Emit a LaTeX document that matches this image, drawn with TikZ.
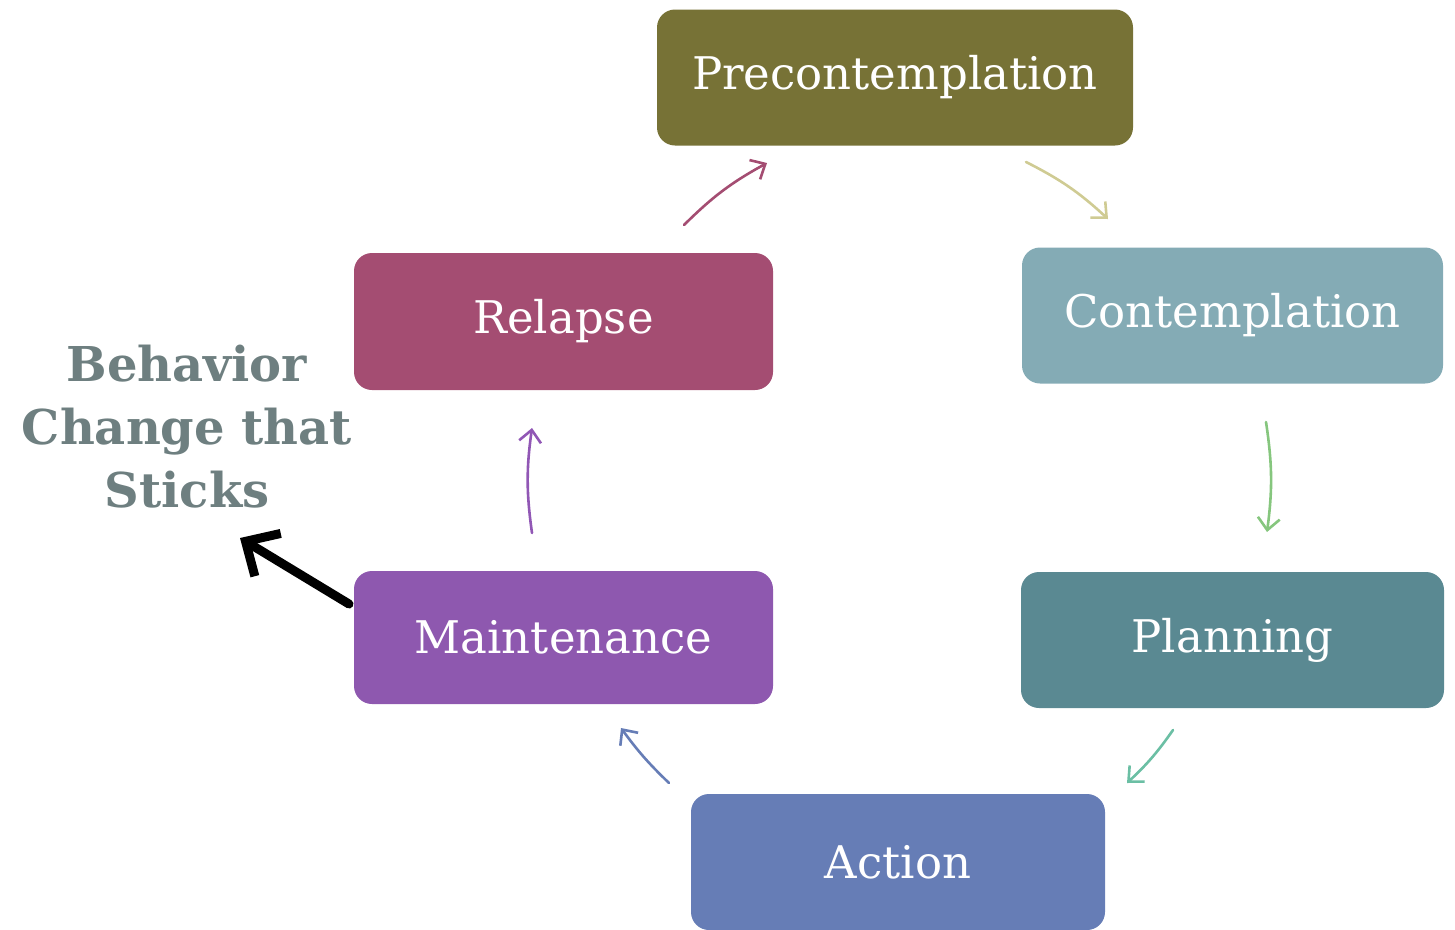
\documentclass[tikz,border=0pt]{standalone}
\usepackage{fontspec}
\setmainfont{DejaVu Serif}
\usetikzlibrary{arrows.meta}

\definecolor{precol}{HTML}{777236}
\definecolor{concol}{HTML}{84ABB5}
\definecolor{placol}{HTML}{5A8992}
\definecolor{actcol}{HTML}{667DB6}
\definecolor{maicol}{HTML}{8E58AF}
\definecolor{relcol}{HTML}{A44D72}
\definecolor{arrA}{HTML}{CFCB93}
\definecolor{arrB}{HTML}{86C67E}
\definecolor{arrC}{HTML}{6BBFA4}
\definecolor{arrD}{HTML}{9157B5}
\definecolor{titlecol}{HTML}{6E7F80}

\tikzset{
  stage/.style={rounded corners=18pt, minimum height=136pt, text=white,
    font=\fontsize{45}{50}\selectfont, inner sep=0pt},
  cycle/.style={-{Straight Barb[length=12pt,width=22pt]}, line width=2.6pt, line cap=round}
}

\begin{document}
\begin{tikzpicture}[x=1pt, y=-1pt]
    \useasboundingbox (0,0) rectangle (1455,929);

    \node(pre) [stage, fill=precol, minimum width=476pt] at (895,77.5)    {Precontemplation};
    \node(con) [stage, fill=concol, minimum width=421pt] at (1232.5,315.5) {Contemplation};
    \node(pla) [stage, fill=placol, minimum width=423pt] at (1232.5,640)   {Planning};
    \node(act) [stage, fill=actcol, minimum width=414pt] at (898,862)      {Action};
    \node(mai) [stage, fill=maicol, minimum width=419pt, minimum height=133pt] at (563.5,637.5) {Maintenance};
    \node(rel) [stage, fill=relcol, minimum width=419pt, minimum height=137pt] at (563.5,321.5) {Relapse};

    \node(goal) [text=titlecol, align=center, font=\bfseries\fontsize{48}{63}\selectfont] at (187,427)
        {Behavior\\Change that\\Sticks};

    % ends of the little arrows between the boxes
    \coordinate (r1) at (684,225);  \coordinate (r2) at (767,163);
    \coordinate (p1) at (1026,162); \coordinate (p2) at (1108,219);
    \coordinate (c1) at (1266,422); \coordinate (c2) at (1267,532);
    \coordinate (l1) at (1173,730); \coordinate (l2) at (1127,783);
    \coordinate (a1) at (669,783);  \coordinate (a2) at (621,728);
    \coordinate (m1) at (532,533);  \coordinate (m2) at (532,428);
    \coordinate (g1) at (349,604);  \coordinate (g2) at (240,538);

    \draw [cycle][draw=relcol] (r1) to [bend left=8] (r2);
    \draw [cycle][draw=arrA] (p1) to [bend left=8] (p2);
    \draw [cycle][draw=arrB] (c1) to [bend left=8] (c2);
    \draw [cycle][draw=arrC] (l1) to [bend left=6] (l2);
    \draw [cycle][draw=actcol] (a1) to [bend left=5] (a2);
    \draw [cycle][draw=arrD] (m1) to [bend left=8] (m2);

    \draw [-{Straight Barb[length=26pt,width=50pt]}, line width=9pt, line cap=round][draw=black] (g1) -- (g2);

  \end{tikzpicture}
\end{document}
